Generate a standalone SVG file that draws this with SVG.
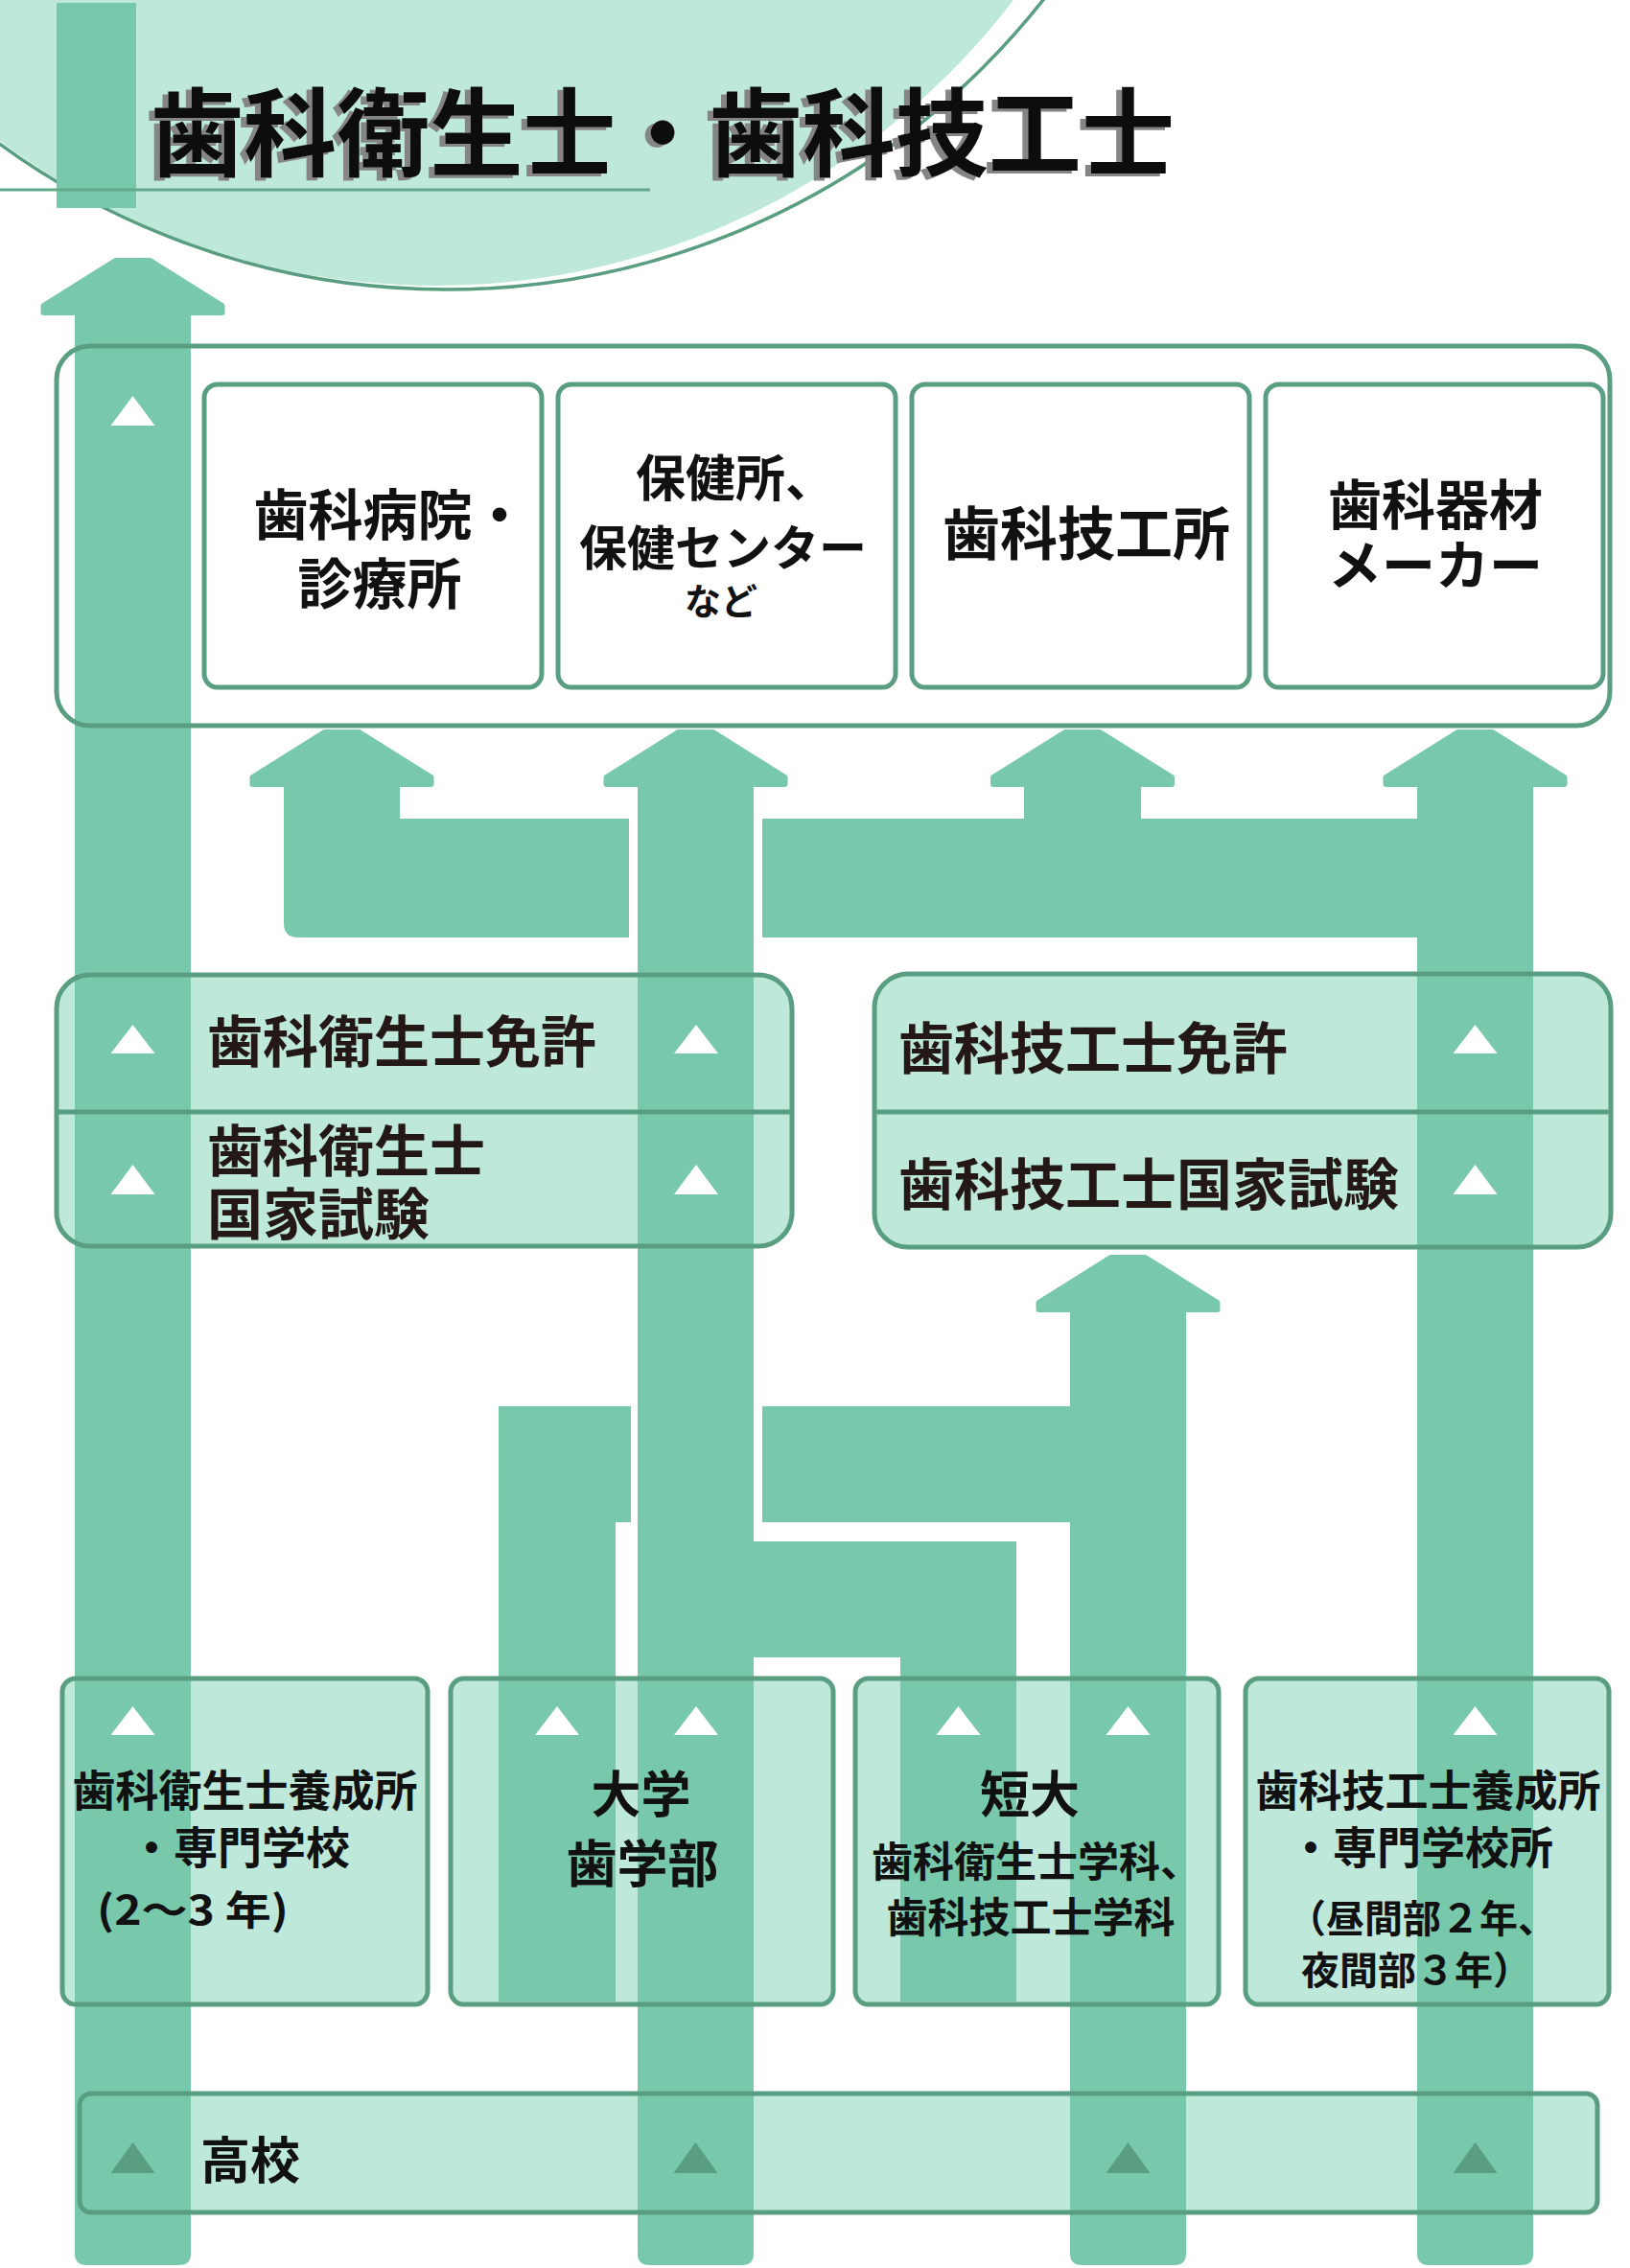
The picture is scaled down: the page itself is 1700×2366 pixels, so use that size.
<svg xmlns="http://www.w3.org/2000/svg" width="1700" height="2366" viewBox="0 0 1700 2366">
<style>
.col{fill:#78c9ab}
.head{fill:#78c9ab;stroke:#78c9ab;stroke-width:6;stroke-linejoin:round}
.lt{fill:#bee9da}
.bd{fill:none;stroke:#5a9e82;stroke-width:5}
.wb{fill:#ffffff;stroke:#5a9e82;stroke-width:5}
.tri{fill:#ffffff}
.tri2{fill:#5a9e82}
.t{font-family:"Noto Sans CJK JP","Noto Sans CJK SC",sans-serif;font-weight:700;fill:#111111}
.tb{font-family:"Noto Sans CJK JP","Noto Sans CJK SC",sans-serif;font-weight:700;fill:#231815}
</style>
<defs>
  <filter id="shadow" x="-5%" y="-20%" width="110%" height="140%">
    <feOffset in="SourceAlpha" dx="-6" dy="3" result="off"/>
    <feFlood flood-color="#858585"/>
    <feComposite in2="off" operator="in" result="sh"/>
    <feMerge><feMergeNode in="sh"/><feMergeNode in="SourceGraphic"/></feMerge>
  </filter>
</defs>
<rect width="1700" height="2366" fill="#ffffff"/>

<g id="title">
  <circle cx="454" cy="-461" r="759" fill="#bee9da"/>
  <circle cx="466" cy="-489" r="791" fill="none" stroke="#5a9e82" stroke-width="3.5"/>
  <rect x="59" y="3" width="83" height="214" fill="#78c9ab"/>
  <line x1="0" y1="198" x2="678" y2="198" stroke="#62a98c" stroke-width="3"/>
  <text x="157" y="176" font-size="100" textLength="1068" lengthAdjust="spacingAndGlyphs" font-family="'Noto Sans CJK JP','Noto Sans CJK SC',sans-serif" font-weight="700" fill="#0a0a0a" filter="url(#shadow)">歯科衛生士・歯科技工士</text>
</g>

<g id="node-backgrounds">
  <rect class="lt" x="59" y="1017" width="767" height="283" rx="35"/>
  <rect class="lt" x="912" y="1016" width="768" height="285" rx="35"/>
  <rect class="lt" x="65" y="1751" width="381" height="340" rx="14"/>
  <rect class="lt" x="470" y="1751" width="399" height="340" rx="14"/>
  <rect class="lt" x="892" y="1751" width="379" height="340" rx="14"/>
  <rect class="lt" x="1299" y="1751" width="379" height="340" rx="14"/>
  <rect class="lt" x="83" y="2184" width="1583" height="124" rx="12"/>
</g>

<g id="connectors">
  <!-- column 1 -->
  <polygon class="head" points="120.5,272 156.5,272 231.5,319 231.5,326 45.5,326 45.5,319"/>
  <path class="col" d="M78,320 H199 V2351 Q199,2363 187,2363 H90 Q78,2363 78,2351 Z"/>
  <!-- column 2 -->
  <polygon class="head" points="707.5,764 743.5,764 818.5,811 818.5,818 632.5,818 632.5,811"/>
  <path class="col" d="M665,815 H786 V2351 Q786,2363 774,2363 H677 Q665,2363 665,2351 Z"/>
  <!-- column 3 -->
  <polygon class="head" points="1158.5,1312 1194.5,1312 1269.5,1359 1269.5,1366 1083.5,1366 1083.5,1359"/>
  <path class="col" d="M1116,1363 H1237 V2351 Q1237,2363 1225,2363 H1128 Q1116,2363 1116,2351 Z"/>
  <!-- column 4 -->
  <polygon class="head" points="1520.5,764 1556.5,764 1631.5,811 1631.5,818 1445.5,818 1445.5,811"/>
  <path class="col" d="M1478,815 H1599 V2351 Q1599,2363 1587,2363 H1490 Q1478,2363 1478,2351 Z"/>
  <!-- branch to clinic -->
  <polygon class="head" points="338.5,764 374.5,764 449.5,811 449.5,818 263.5,818 263.5,811"/>
  <path class="col" d="M296,815 H417 V854 H656 V978 H311 Q296,978 296,963 Z"/>
  <!-- branch to dental lab -->
  <polygon class="head" points="1111,764 1147,764 1222,811 1222,818 1036,818 1036,811"/>
  <path class="col" d="M1068,815 H1190 V854 H1478 V978 H795 V854 H1068 Z"/>
  <!-- university to technician exam -->
  <path class="col" d="M520,1467 H658 V1588 H642 V2088 H520 Z"/>
  <rect class="col" x="795" y="1467" width="322" height="121"/>
  <!-- junior college to hygienist exam -->
  <path class="col" d="M786,1608 H1060 V2088 H939 V1729 H786 Z"/>
</g>

<g id="workplaces">
  <rect class="bd" x="59" y="361" width="1620" height="396" rx="35"/>
</g>
<g id="n-clinic">
  <rect class="wb" x="213" y="401" width="352" height="316" rx="14"/>
  <text class="t" x="407" y="558" font-size="57" text-anchor="middle">歯科病院・</text>
  <text class="t" x="396" y="630" font-size="57" text-anchor="middle">診療所</text>
</g>
<g id="n-hokenjo">
  <rect class="wb" x="582" y="401" width="352" height="316" rx="14"/>
  <text class="t" x="767" y="518" font-size="52" text-anchor="middle">保健所、</text>
  <text class="t" x="754" y="590" font-size="50" text-anchor="middle">保健センター</text>
  <text class="t" x="752" y="641" font-size="38" text-anchor="middle" font-weight="500">など</text>
</g>
<g id="n-lab">
  <rect class="wb" x="951" y="401" width="352" height="316" rx="14"/>
  <text class="t" x="1133" y="579" font-size="60" text-anchor="middle">歯科技工所</text>
</g>
<g id="n-maker">
  <rect class="wb" x="1320" y="401" width="352" height="316" rx="14"/>
  <text class="t" x="1497" y="547" font-size="56" text-anchor="middle">歯科器材</text>
  <text class="t" x="1497" y="610" font-size="56" text-anchor="middle">メーカー</text>
</g>

<g id="n-dh-license">
  <rect class="bd" x="59" y="1017" width="767" height="283" rx="35"/>
  <line x1="59" y1="1160" x2="826" y2="1160" stroke="#5a9e82" stroke-width="5"/>
  <text class="tb" x="216" y="1108" font-size="58">歯科衛生士免許</text>
  <text class="tb" x="216" y="1222" font-size="58">歯科衛生士</text>
  <text class="tb" x="216" y="1288" font-size="58">国家試験</text>
</g>
<g id="n-dt-license">
  <rect class="bd" x="912" y="1016" width="768" height="285" rx="35"/>
  <line x1="912" y1="1160" x2="1680" y2="1160" stroke="#5a9e82" stroke-width="5"/>
  <text class="tb" x="937" y="1115" font-size="58">歯科技工士免許</text>
  <text class="tb" x="937" y="1257" font-size="58">歯科技工士国家試験</text>
</g>

<g id="n-dh-school">
  <rect class="bd" x="65" y="1751" width="381" height="340" rx="14"/>
  <text class="t" x="255.5" y="1885" font-size="45" text-anchor="middle">歯科衛生士養成所</text>
  <text class="t" x="250" y="1944" font-size="46" text-anchor="middle">・専門学校</text>
  <text class="t" x="101" y="2008" font-size="42" font-weight="500" textLength="200" lengthAdjust="spacingAndGlyphs">(2〜3 年)</text>
</g>
<g id="n-univ">
  <rect class="bd" x="470" y="1751" width="399" height="340" rx="14"/>
  <text class="t" x="668.5" y="1891" font-size="52" text-anchor="middle">大学</text>
  <text class="t" x="670" y="1964" font-size="53" text-anchor="middle">歯学部</text>
</g>
<g id="n-junior">
  <rect class="bd" x="892" y="1751" width="379" height="340" rx="14"/>
  <text class="t" x="1074" y="1891" font-size="52" text-anchor="middle">短大</text>
  <text class="t" x="909" y="1958" font-size="43">歯科衛生士学科、</text>
  <text class="t" x="1075" y="2016" font-size="43" text-anchor="middle">歯科技工士学科</text>
</g>
<g id="n-dt-school">
  <rect class="bd" x="1299" y="1751" width="379" height="340" rx="14"/>
  <text class="t" x="1489.5" y="1885" font-size="45" text-anchor="middle">歯科技工士養成所</text>
  <text class="t" x="1482" y="1944" font-size="46" text-anchor="middle">・専門学校所</text>
  <text class="t" x="1343" y="2016" font-size="40">（昼間部２年、</text>
  <text class="t" x="1357" y="2070" font-size="40">夜間部３年）</text>
</g>
<g id="n-highschool">
  <rect class="bd" x="83" y="2184" width="1583" height="124" rx="12"/>
  <text class="t" x="209" y="2273" font-size="52" fill="#222222">高校</text>
</g>

<g id="markers">
  <polygon class="tri" points="115.5,444 138.5,413 161.5,444"/>
  <polygon class="tri" points="115.5,1099 138.5,1069 161.5,1099"/>
  <polygon class="tri" points="703,1099 726,1069 749,1099"/>
  <polygon class="tri" points="115.5,1246 138.5,1215 161.5,1246"/>
  <polygon class="tri" points="703,1246 726,1215 749,1246"/>
  <polygon class="tri" points="1515.5,1099 1538.5,1069 1561.5,1099"/>
  <polygon class="tri" points="1515.5,1246 1538.5,1215 1561.5,1246"/>
  <polygon class="tri" points="115.5,1810 138.5,1780 161.5,1810"/>
  <polygon class="tri" points="558,1810 581,1780 604,1810"/>
  <polygon class="tri" points="703,1810 726,1780 749,1810"/>
  <polygon class="tri" points="976.5,1810 999.5,1780 1022.5,1810"/>
  <polygon class="tri" points="1153.5,1810 1176.5,1780 1199.5,1810"/>
  <polygon class="tri" points="1515.5,1810 1538.5,1780 1561.5,1810"/>
  <polygon class="tri2" points="115.5,2267 138.5,2235 161.5,2267"/>
  <polygon class="tri2" points="702.5,2267 725.5,2235 748.5,2267"/>
  <polygon class="tri2" points="1153.5,2267 1176.5,2235 1199.5,2267"/>
  <polygon class="tri2" points="1515.5,2267 1538.5,2235 1561.5,2267"/>
</g>
</svg>
